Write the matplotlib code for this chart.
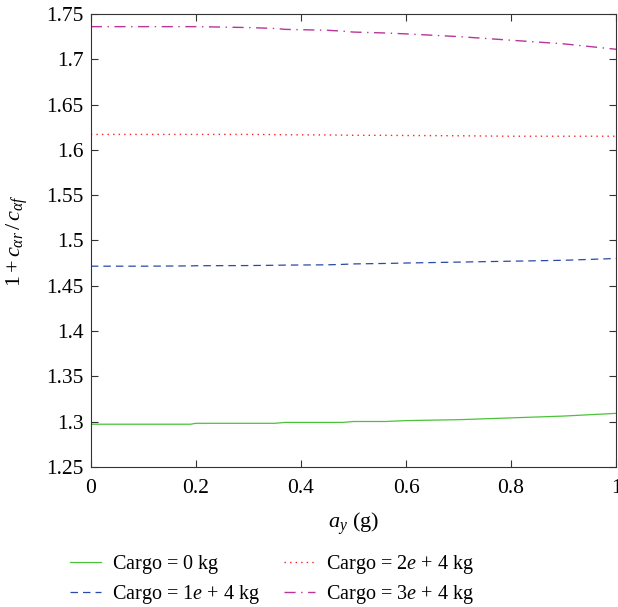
import matplotlib
matplotlib.use('Agg')
import matplotlib.pyplot as plt

plt.rcParams['font.family'] = 'Liberation Serif'
plt.rcParams['mathtext.fontset'] = 'custom'
plt.rcParams['mathtext.rm'] = 'Liberation Serif'
plt.rcParams['mathtext.it'] = 'Liberation Serif:italic'

# lateral acceleration (g)
ay = [0.0, 0.1, 0.19, 0.2, 0.3, 0.35, 0.37, 0.45, 0.48, 0.5, 0.56, 0.6, 0.7, 0.8, 0.9, 1.0]

cargo_0 = [1.297, 1.297, 1.297, 1.298, 1.298, 1.298, 1.299, 1.299, 1.299, 1.300, 1.300, 1.301, 1.302, 1.304, 1.306, 1.309]
cargo_1e4 = [1.4715, 1.4715, 1.4718, 1.472, 1.4722, 1.4725, 1.4727, 1.473, 1.4735, 1.474, 1.4745, 1.475, 1.476, 1.477, 1.478, 1.480]
cargo_2e4 = [1.617, 1.617, 1.617, 1.617, 1.617, 1.6168, 1.6166, 1.6164, 1.6162, 1.616, 1.616, 1.6158, 1.6155, 1.615, 1.615, 1.615]
cargo_3e4 = [1.736, 1.736, 1.736, 1.736, 1.735, 1.734, 1.733, 1.732, 1.731, 1.730, 1.729, 1.728, 1.725, 1.721, 1.717, 1.711]

labels = [r'Cargo = $0$ kg', r'Cargo = 1$e$ + 4 kg', r'Cargo = 2$e$ + 4 kg', r'Cargo = 3$e$ + 4 kg']

fig = plt.figure(figsize=(6.18, 6.07), dpi=100)
ax = fig.add_axes([0.147, 0.231, 0.85, 0.746])

l1, = ax.plot(ay, cargo_0, color='#4cc23a', linestyle='-', lw=0.9)
l2, = ax.plot(ay, cargo_1e4, color='#2a4aa8', linestyle=(0, (6, 4)), lw=0.9)
l3, = ax.plot(ay, cargo_2e4, color='#ff2020', linestyle=(0, (1, 3)), lw=1.0)
l4, = ax.plot(ay, cargo_3e4, color='#b8359a', linestyle=(0, (8, 4, 1, 4)), lw=1.0)

ax.set_xlim(0, 1)
ax.set_ylim(1.25, 1.75)
ax.set_xticks([0, 0.2, 0.4, 0.6, 0.8, 1])
ax.set_xticklabels(['0', '0.2', '0.4', '0.6', '0.8', '1'])
ax.set_yticks([1.25, 1.3, 1.35, 1.4, 1.45, 1.5, 1.55, 1.6, 1.65, 1.7, 1.75])
ax.set_yticklabels(['1.25', '1.3', '1.35', '1.4', '1.45', '1.5', '1.55', '1.6', '1.65', '1.7', '1.75'])
ax.tick_params(direction='in', top=True, right=True, labelsize=15.5, length=5, color='#333333')
ax.tick_params(axis='x', pad=9)
ax.tick_params(axis='y', pad=5)
for s in ax.spines.values():
    s.set_color('#333333')

ax.set_xlabel(r'$a_y$ (g)', fontsize=16, labelpad=9)
ax.set_ylabel(r'$1 + c_{\alpha r}\,/\,c_{\alpha f}$', fontsize=16, labelpad=12)

fig.legend([l1, l2, l3, l4], labels, loc='lower center', ncol=2, frameon=False,
           fontsize=14.5, bbox_to_anchor=(0.44, -0.028), columnspacing=1.2,
           handlelength=1.55, handletextpad=0.55, labelspacing=0.35)

fig.savefig('out.png', dpi=100)
